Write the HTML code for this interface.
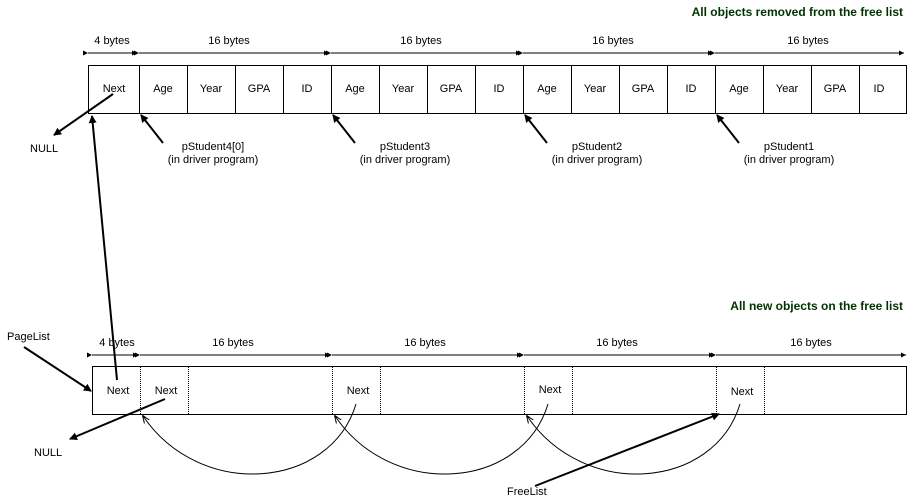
<!DOCTYPE html>
<html><head><style>body{margin:0;background:#fff}svg{display:block}text{font-family:"Liberation Sans",sans-serif;font-size:11px;fill:#000}</style></head><body>
<svg width="915" height="501" viewBox="0 0 915 501" xmlns="http://www.w3.org/2000/svg">
<defs>
<marker id="a" markerWidth="8" markerHeight="8" refX="7" refY="4" orient="auto" markerUnits="userSpaceOnUse"><path d="M0,0L8,4L0,8z" fill="#000"/></marker>
<marker id="s" markerWidth="5" markerHeight="5" refX="5" refY="2.5" orient="auto" markerUnits="userSpaceOnUse"><path d="M0,0L5,2.5L0,5z" fill="#000"/></marker>
<marker id="t" markerWidth="8" markerHeight="8" refX="7" refY="4" orient="auto" markerUnits="userSpaceOnUse"><path d="M0,1L8,4L0,7" fill="none" stroke="#000"/></marker>
</defs>
<text x="903" y="16" text-anchor="end" style="font-weight:bold;font-size:12px;fill:#003300">All objects removed from the free list</text>
<text x="903" y="310" text-anchor="end" style="font-weight:bold;font-size:12px;fill:#003300">All new objects on the free list</text>
<g stroke="#000" stroke-width="1">
<line x1="88" y1="53" x2="137" y2="53" marker-start="url(#s)" marker-end="url(#s)"/>
<line x1="139" y1="53" x2="329" y2="53" marker-start="url(#s)" marker-end="url(#s)"/>
<line x1="331" y1="53" x2="521" y2="53" marker-start="url(#s)" marker-end="url(#s)"/>
<line x1="523" y1="53" x2="713" y2="53" marker-start="url(#s)" marker-end="url(#s)"/>
<line x1="715" y1="53" x2="904" y2="53" marker-start="url(#s)" marker-end="url(#s)"/>
</g>
<g text-anchor="middle">
<text x="112" y="44">4 bytes</text><text x="229" y="44">16 bytes</text><text x="421" y="44">16 bytes</text><text x="613" y="44">16 bytes</text><text x="808" y="44">16 bytes</text>
</g>
<rect x="88.5" y="65.5" width="818" height="48" fill="none" stroke="#000"/>
<g stroke="#000">
<line x1="139.5" y1="65" x2="139.5" y2="113"/><line x1="187.5" y1="65" x2="187.5" y2="113"/><line x1="235.5" y1="65" x2="235.5" y2="113"/><line x1="283.5" y1="65" x2="283.5" y2="113"/>
<line x1="331.5" y1="65" x2="331.5" y2="113"/><line x1="379.5" y1="65" x2="379.5" y2="113"/><line x1="427.5" y1="65" x2="427.5" y2="113"/><line x1="475.5" y1="65" x2="475.5" y2="113"/>
<line x1="523.5" y1="65" x2="523.5" y2="113"/><line x1="571.5" y1="65" x2="571.5" y2="113"/><line x1="619.5" y1="65" x2="619.5" y2="113"/><line x1="667.5" y1="65" x2="667.5" y2="113"/>
<line x1="715.5" y1="65" x2="715.5" y2="113"/><line x1="763.5" y1="65" x2="763.5" y2="113"/><line x1="811.5" y1="65" x2="811.5" y2="113"/><line x1="859.5" y1="65" x2="859.5" y2="113"/>
</g>
<g text-anchor="middle">
<text x="114" y="92">Next</text>
<text x="163" y="92">Age</text><text x="211" y="92">Year</text><text x="259" y="92">GPA</text><text x="307" y="92">ID</text>
<text x="355" y="92">Age</text><text x="403" y="92">Year</text><text x="451" y="92">GPA</text><text x="499" y="92">ID</text>
<text x="547" y="92">Age</text><text x="595" y="92">Year</text><text x="643" y="92">GPA</text><text x="691" y="92">ID</text>
<text x="739" y="92">Age</text><text x="787" y="92">Year</text><text x="835" y="92">GPA</text><text x="879" y="92">ID</text>
<text x="213" y="150">pStudent4[0]</text><text x="213" y="163">(in driver program)</text>
<text x="405" y="150">pStudent3</text><text x="405" y="163">(in driver program)</text>
<text x="597" y="150">pStudent2</text><text x="597" y="163">(in driver program)</text>
<text x="789" y="150">pStudent1</text><text x="789" y="163">(in driver program)</text>
</g>
<g stroke="#000" stroke-width="2" fill="none">
<line x1="113" y1="94" x2="54" y2="135" marker-end="url(#a)"/>
<line x1="163" y1="143" x2="141" y2="115" marker-end="url(#a)"/>
<line x1="355" y1="143" x2="333" y2="115" marker-end="url(#a)"/>
<line x1="547" y1="143" x2="525" y2="115" marker-end="url(#a)"/>
<line x1="739" y1="143" x2="717" y2="115" marker-end="url(#a)"/>
<line x1="117" y1="380" x2="92" y2="116" marker-end="url(#a)"/>
<line x1="24" y1="347" x2="91" y2="391" marker-end="url(#a)"/>
<line x1="165" y1="399" x2="70" y2="439" marker-end="url(#a)"/>
<line x1="535" y1="486" x2="719" y2="414" marker-end="url(#a)"/>
</g>
<text x="30" y="152">NULL</text>
<text x="7" y="340">PageList</text>
<text x="34" y="456">NULL</text>
<text x="507" y="495">FreeList</text>
<g stroke="#000">
<line x1="92" y1="355" x2="138" y2="355" marker-start="url(#s)" marker-end="url(#s)"/>
<line x1="140" y1="355" x2="330" y2="355" marker-start="url(#s)" marker-end="url(#s)"/>
<line x1="332" y1="355" x2="522" y2="355" marker-start="url(#s)" marker-end="url(#s)"/>
<line x1="524" y1="355" x2="714" y2="355" marker-start="url(#s)" marker-end="url(#s)"/>
<line x1="716" y1="355" x2="906" y2="355" marker-start="url(#s)" marker-end="url(#s)"/>
</g>
<g text-anchor="middle">
<text x="117" y="346">4 bytes</text><text x="233" y="346">16 bytes</text><text x="425" y="346">16 bytes</text><text x="617" y="346">16 bytes</text><text x="811" y="346">16 bytes</text>
</g>
<rect x="92.5" y="366.5" width="814" height="48" fill="none" stroke="#000"/>
<g stroke="#000" stroke-dasharray="1,1">
<line x1="140.5" y1="367" x2="140.5" y2="414"/><line x1="188.5" y1="367" x2="188.5" y2="414"/>
<line x1="332.5" y1="367" x2="332.5" y2="414"/><line x1="380.5" y1="367" x2="380.5" y2="414"/>
<line x1="524.5" y1="367" x2="524.5" y2="414"/><line x1="572.5" y1="367" x2="572.5" y2="414"/>
<line x1="716.5" y1="367" x2="716.5" y2="414"/><line x1="764.5" y1="367" x2="764.5" y2="414"/>
</g>
<g text-anchor="middle">
<text x="118" y="394">Next</text><text x="166" y="394">Next</text><text x="358" y="394">Next</text><text x="550" y="393">Next</text><text x="742" y="395">Next</text>
</g>
<g stroke="#000" fill="none">
<path d="M356,404 C330,490 200,500 143,416" marker-end="url(#t)"/>
<path d="M548,404 C522,490 392,500 335,416" marker-end="url(#t)"/>
<path d="M740,404 C714,490 584,500 527,416" marker-end="url(#t)"/>
</g>
</svg>
</body></html>
